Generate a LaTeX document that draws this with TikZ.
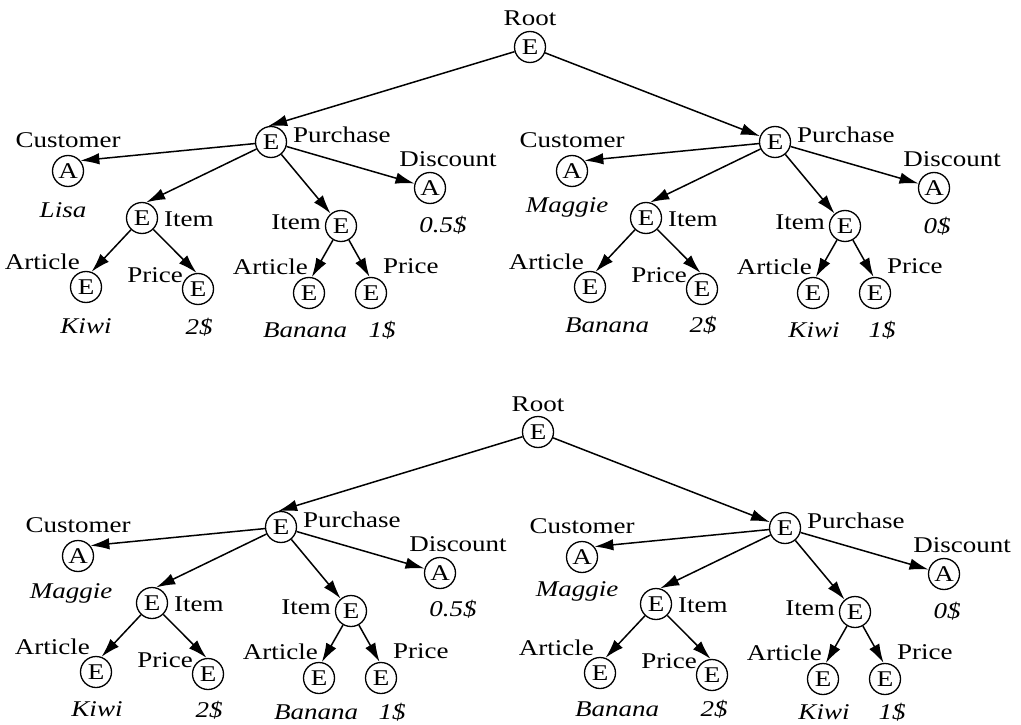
\documentclass[tikz,border=0pt]{standalone}
\usepackage{fontspec}
\setmainfont{Liberation Serif}[FakeStretch=1.2]
\usetikzlibrary{shapes.geometric,arrows.meta}
\tikzset{
  ent/.style={draw, circle, line width=1.3pt, minimum size=31pt, inner sep=0pt, font=\fontsize{22.5}{25}\selectfont},
  lbl/.style={inner sep=0pt, font=\fontsize{22.5}{25}\selectfont},
  val/.style={inner sep=0pt, anchor=base, font=\fontsize{22.5}{25}\selectfont\itshape},
  arr/.style={line width=1.5pt, -{Latex[length=19pt,width=11.5pt]}}
}
\newcommand\ptree[2]{%
\begin{scope}[shift={#2}]
\node[ent] (#1P) at (0,0) {E};
\node[lbl,anchor=west] (#1Plbl) at (22,-7) {Purchase};
\node[ent] (#1C) at (-203,29) {A};
\node[lbl] (#1Clbl) at (-203,-2) {Customer};
\node[ent] (#1D) at (159,46) {A};
\node[lbl] (#1Dlbl) at (177,17) {Discount};
\node[ent] (#1I) at (-129,76) {E};
\node[lbl,anchor=west] (#1Ilbl) at (-107,77) {Item};
\node[ent] (#1J) at (70,84) {E};
\node[lbl,anchor=east] (#1Jlbl) at (50,80) {Item};
\node[ent] (#1A) at (-185,145) {E};
\node[lbl,anchor=east] (#1Albl) at (-191,120) {Article};
\node[ent] (#1R) at (-73,147) {E};
\node[lbl,anchor=east] (#1Rlbl) at (-88,133) {Price};
\node[ent] (#1B) at (38,151) {E};
\node[lbl,anchor=east] (#1Blbl) at (37,125) {Article};
\node[ent] (#1S) at (100,151) {E};
\node[lbl,anchor=west] (#1Slbl) at (112,124) {Price};
\draw[arr] (#1P) -- (#1C.40);
\draw[arr] (#1P) -- (#1D);
\draw[arr] (#1P) -- (#1I.75);
\draw[arr] (#1P) -- (#1J);
\draw[arr] (#1I) -- (#1A.70);
\draw[arr] (#1I) -- (#1R.95);
\draw[arr] (#1J) -- (#1B.80);
\draw[arr] (#1J) -- (#1S.95);
\end{scope}}
\begin{document}
\begin{tikzpicture}[x=1pt,y=-1pt]
\useasboundingbox (0,0) rectangle (1021,725);
% ---------- top ----------
\node[ent] (rootA) at (530,47) {E};
\node[lbl] (rootAlbl) at (530,18) {Root};
\ptree{tl}{(271,142)}
\ptree{tr}{(775,142)}
\draw[arr] (rootA) -- (tlP.100);
\draw[arr] (rootA) -- (trP);
\node[val] (tlv1) at (63,217) {Lisa};
\node[val] (tlv2) at (443,232) {0.5\$};
\node[val] (tlv3) at (86,333) {Kiwi};
\node[val] (tlv4) at (199,334) {2\$};
\node[val] (tlv5) at (305,337) {Banana};
\node[val] (tlv6) at (382,337) {1\$};
\node[val] (trv1) at (567,212) {Maggie};
\node[val] (trv2) at (937,233) {0\$};
\node[val] (trv3) at (607,332) {Banana};
\node[val] (trv4) at (703,332) {2\$};
\node[val] (trv5) at (814,337) {Kiwi};
\node[val] (trv6) at (882,337) {1\$};
% ---------- bottom ----------
\node[ent] (rootB) at (538,432) {E};
\node[lbl] (rootBlbl) at (538,404) {Root};
\ptree{bl}{(281,527)}
\ptree{br}{(785,528)}
\draw[arr] (rootB) -- (blP.100);
\draw[arr] (rootB) -- (brP);
\node[val] (blv1) at (71,598) {Maggie};
\node[val] (blv2) at (453,616) {0.5\$};
\node[val] (blv3) at (97,716) {Kiwi};
\node[val] (blv4) at (209,717) {2\$};
\node[val] (blv5) at (316,719) {Banana};
\node[val] (blv6) at (392,719) {1\$};
\node[val] (brv1) at (577,596) {Maggie};
\node[val] (brv2) at (947,618) {0\$};
\node[val] (brv3) at (617,716) {Banana};
\node[val] (brv4) at (714,716) {2\$};
\node[val] (brv5) at (824,719) {Kiwi};
\node[val] (brv6) at (892,719) {1\$};
\end{tikzpicture}
\end{document}
